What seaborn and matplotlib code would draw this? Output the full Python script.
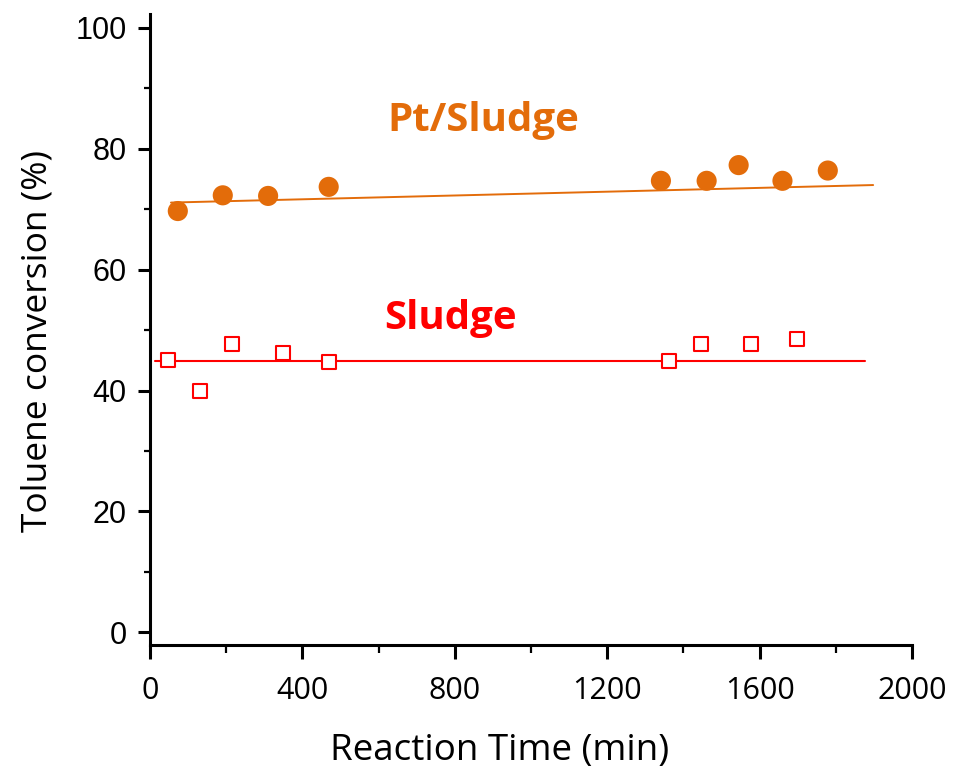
import matplotlib
matplotlib.use("Agg")
import matplotlib.pyplot as plt
import seaborn as sns
import pandas as pd
from matplotlib.ticker import MultipleLocator

# Data
pt_time = [73, 191, 310, 469, 1341, 1461, 1545, 1660, 1779]
pt_conv = [69.7, 72.3, 72.2, 73.7, 74.7, 74.7, 77.3, 74.7, 76.4]
sl_time = [48, 132, 216, 348, 469, 1362, 1446, 1578, 1698]
sl_conv = [45.1, 39.9, 47.7, 46.2, 44.8, 44.9, 47.7, 47.7, 48.5]
pt_fit_time = [55, 1898]
pt_fit_conv = [71.1, 74.0]
sl_fit_time = [13, 1877]
sl_fit_conv = [44.9, 44.9]
x_ticks = [0, 400, 800, 1200, 1600, 2000]
x_ticklabels = ["0", "400", "800", "1200", "1600", "2000"]
y_ticks = [0, 20, 40, 60, 80, 100]

ORANGE = "#E36C0A"
RED = "#FF0000"

sns.set_theme(style="white")
plt.rcParams["font.family"] = ["Liberation Sans", "DejaVu Sans"]
plt.rcParams["text.color"] = "black"
plt.rcParams["axes.labelcolor"] = "black"
plt.rcParams["xtick.color"] = "black"
plt.rcParams["ytick.color"] = "black"

fig = plt.figure(figsize=(9.57, 7.74), dpi=100)
ax = fig.add_axes([150/957, 1-645/774, (912-150)/957, (645-14)/774])

pt = pd.DataFrame({"t": pt_time, "c": pt_conv})
sl = pd.DataFrame({"t": sl_time, "c": sl_conv})
ptf = pd.DataFrame({"t": pt_fit_time, "c": pt_fit_conv})
slf = pd.DataFrame({"t": sl_fit_time, "c": sl_fit_conv})

sns.lineplot(data=ptf, x="t", y="c", ax=ax, color=ORANGE, lw=1.4, zorder=2)
sns.lineplot(data=slf, x="t", y="c", ax=ax, color=RED, lw=1.5, zorder=2)
sns.scatterplot(data=pt, x="t", y="c", ax=ax, color=ORANGE, s=210, marker="o",
                edgecolor="none", zorder=3)
sns.scatterplot(data=sl, x="t", y="c", ax=ax, marker="s", s=110,
                facecolor="white", edgecolor=RED, linewidth=1.5, zorder=3)

ax.set_xlim(0, 2000)
ax.set_ylim(-2.1, 102.3)
label_font = ["Open Sans", "DejaVu Sans"]
ax.set_xticks(x_ticks, labels=x_ticklabels, fontfamily=label_font, fontsize=22)
ax.xaxis.set_minor_locator(MultipleLocator(200))
ax.yaxis.set_minor_locator(MultipleLocator(10))
ax.set_yticks(y_ticks)

for s in ["top", "right"]:
    ax.spines[s].set_visible(False)
for s in ["left", "bottom"]:
    ax.spines[s].set_linewidth(2.2)
    ax.spines[s].set_color("black")

ax.tick_params(axis="y", which="major", direction="out", length=9, width=2.2,
               labelsize=22, left=True, pad=8)
ax.tick_params(axis="y", which="minor", direction="out", length=4.3, width=1.6, left=True)
ax.tick_params(axis="x", which="major", direction="out", length=10, width=2.2,
               bottom=True, pad=12)
ax.tick_params(axis="x", which="minor", direction="out", length=5.5, width=1.6, bottom=True)

ax.set_xlabel("Reaction Time (min)", fontsize=26.5, family=label_font)
ax.set_ylabel("Toluene conversion (%)", fontsize=25.5, family=label_font)
ax.xaxis.set_label_coords((500-150)/762, (645-733)/631)
ax.yaxis.set_label_coords((55-150)/762, (645-341)/631)

ax.text(875, 84.6, "Pt/Sludge", color=ORANGE, fontsize=29, fontweight="bold",
        family=label_font, ha="center", va="center")
ax.text(790, 52.0, "Sludge", color=RED, fontsize=29, fontweight="bold",
        family=label_font, ha="center", va="center")

ax.grid(False)
fig.savefig("out.png", dpi=100)
